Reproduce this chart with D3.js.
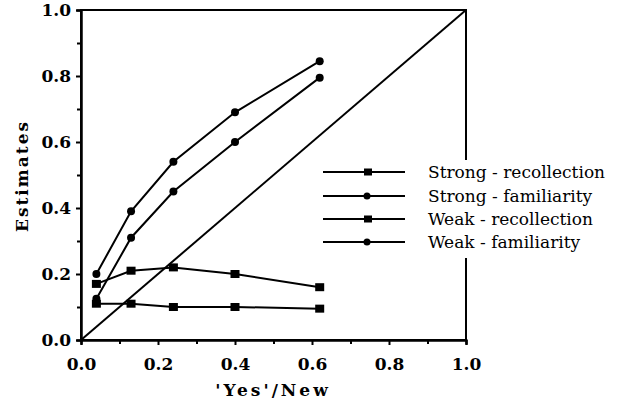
<!DOCTYPE html>
<html><head><meta charset="utf-8">
<script src="https://cdn.jsdelivr.net/npm/d3@7"></script>
<style>body{margin:0;background:#fff}svg{display:block}svg text{font-family:"DejaVu Serif",serif}</style>
</head><body>
<svg id="c" width="621" height="404"></svg>
<script>
const xVals = [0.04, 0.13, 0.24, 0.40, 0.62];
const strongRecollection = [0.17, 0.21, 0.22, 0.20, 0.16];
const strongFamiliarity = [0.20, 0.39, 0.54, 0.69, 0.845];
const weakRecollection = [0.11, 0.11, 0.10, 0.10, 0.095];
const weakFamiliarity = [0.125, 0.31, 0.45, 0.60, 0.795];
const seriesNames = ["Strong - recollection", "Strong - familiarity", "Weak - recollection", "Weak - familiarity"];
const seriesMarkers = ["square", "circle", "square", "circle"];
const majorTicks = [0, 0.2, 0.4, 0.6, 0.8, 1.0];
const minorTicks = [0.1, 0.3, 0.5, 0.7, 0.9];
const xTitle = "'Yes'/New";
const yTitle = "Estimates";

const series = [strongRecollection, strongFamiliarity, weakRecollection, weakFamiliarity];
const svg = d3.select("#c");
const x = d3.scaleLinear().domain([0, 1]).range([81, 466]);
const y = d3.scaleLinear().domain([0, 1]).range([340, 10]);

svg.append("rect").attr("x", x(0)).attr("y", y(1)).attr("width", x(1) - x(0)).attr("height", y(0) - y(1))
  .attr("fill", "none").attr("stroke", "#000").attr("stroke-width", 2);

const xAxis = d3.axisBottom(x).tickValues(majorTicks).tickFormat(d3.format(".1f")).tickSize(5).tickPadding(12);
const gx = svg.append("g").attr("transform", `translate(0,${y(0)})`).call(xAxis);
const gxm = svg.append("g").attr("transform", `translate(0,${y(0)})`)
  .call(d3.axisBottom(x).tickValues(minorTicks).tickFormat("").tickSize(4));
const yAxis = d3.axisLeft(y).tickValues(majorTicks).tickFormat(d3.format(".1f")).tickSize(5).tickPadding(5);
const gy = svg.append("g").attr("transform", `translate(${x(0)},0)`).call(yAxis);
const gym = svg.append("g").attr("transform", `translate(${x(0)},0)`)
  .call(d3.axisLeft(y).tickValues(minorTicks).tickFormat("").tickSize(4));
[gx, gxm, gy, gym].forEach(g => {
  g.attr("font-family", null);
  g.select(".domain").attr("stroke", "#000").attr("stroke-width", 2);
  g.selectAll(".tick line").attr("stroke", "#000").attr("stroke-width", 2);
  g.selectAll("text").attr("font-weight", "bold").attr("font-size", 17).attr("fill", "#000");
});
gx.selectAll("text").attr("dy", "0.75em");

svg.append("line").attr("x1", x(0)).attr("y1", y(0)).attr("x2", x(1)).attr("y2", y(1))
  .attr("stroke", "#000").attr("stroke-width", 2);

const line = d3.line().x((d, i) => x(xVals[i])).y(d => y(d));
series.forEach((s, k) => {
  svg.append("path").datum(s).attr("d", line).attr("fill", "none").attr("stroke", "#000").attr("stroke-width", 2);
  const g = svg.append("g");
  s.forEach((v, i) => {
    if (seriesMarkers[k] === "square") {
      g.append("rect").attr("x", x(xVals[i]) - 4.5).attr("y", y(v) - 4).attr("width", 9).attr("height", 8).attr("fill", "#000");
    } else {
      g.append("circle").attr("cx", x(xVals[i])).attr("cy", y(v)).attr("r", 4).attr("fill", "#000");
    }
  });
});

const leg = svg.append("g");
leg.append("rect").attr("x", 318).attr("y", 160).attr("width", 300).attr("height", 98).attr("fill", "#fff");
const rowY = [172, 196, 219, 242];
seriesNames.forEach((n, k) => {
  leg.append("line").attr("x1", 323).attr("x2", 405).attr("y1", rowY[k]).attr("y2", rowY[k])
    .attr("stroke", "#000").attr("stroke-width", 2);
  if (seriesMarkers[k] === "square") {
    leg.append("rect").attr("x", 364).attr("y", rowY[k] - 3.5).attr("width", 8).attr("height", 7).attr("fill", "#000");
  } else {
    leg.append("circle").attr("cx", 367).attr("cy", rowY[k]).attr("r", 3.5).attr("fill", "#000");
  }
  leg.append("text").attr("x", 428).attr("y", rowY[k] + 6).text(n)
    .attr("font-size", 17).attr("fill", "#000");
});

svg.append("text").attr("x", 273).attr("y", 396).attr("text-anchor", "middle").text(xTitle)
  .attr("font-weight", "bold").attr("font-size", 17).attr("letter-spacing", 3);
svg.append("text").attr("transform", "translate(28,176) rotate(-90)").attr("text-anchor", "middle").text(yTitle)
  .attr("font-weight", "bold").attr("font-size", 17).attr("letter-spacing", 2);
</script>
</body></html>
